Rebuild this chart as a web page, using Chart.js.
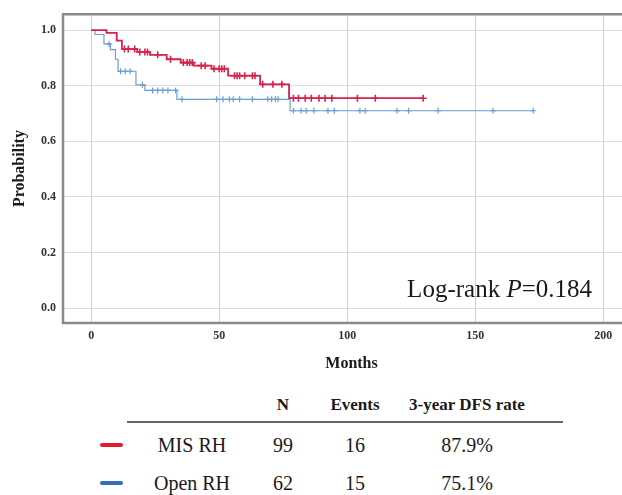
<!DOCTYPE html>
<html>
<head>
<meta charset="utf-8">
<script src="https://cdn.jsdelivr.net/npm/chart.js@4.4.0/dist/chart.umd.min.js"></script>
<style>
  html, body { margin: 0; padding: 0; background: #fff; }
  body { width: 622px; height: 495px; position: relative; overflow: hidden; font-family: "Liberation Serif", serif; color: #1a1a1a; }
  #wrap { position: absolute; left: 0; top: 0; width: 622px; height: 380px; overflow: hidden; }
  .cell { position: absolute; transform: translate(-50%, -50%); white-space: nowrap; }
  .hd { font-weight: bold; font-size: 17px; }
  .rw { font-size: 20px; }
  .rule { position: absolute; left: 127px; top: 421px; width: 436px; height: 2px; background: #666; }
  .dash { position: absolute; left: 100px; width: 23px; height: 4px; border-radius: 2px; }
</style>
</head>
<body>
<div id="wrap"><canvas id="km" width="640" height="380"></canvas></div>

<div id="table"></div>

<script>
const xTicks = [0, 50, 100, 150, 200];
const yTicks = [0, 0.2, 0.4, 0.6, 0.8, 1.0];

// MIS RH - times where the curve steps, and level after each step
const misTimes = [0, 6, 10, 12, 18, 23, 29.5, 35, 40, 47, 53.5, 66, 77.3, 129.7];
const misSurv  = [1.0, 0.99, 0.962, 0.932, 0.921, 0.911, 0.895, 0.883, 0.872, 0.861, 0.836, 0.805, 0.755, 0.755];
const misCensored = [13, 14.5, 17, 19, 21, 22, 26, 31, 36, 37.5, 38.5, 39.5, 43, 44.5, 48, 50, 51, 52,
                     56, 57, 58, 60, 63, 64, 67, 71, 74.5, 79, 81, 83.6, 86, 89, 91.4, 94, 104, 111, 129.7];

// Open RH
const openTimes = [0, 1.5, 5, 7.5, 9.5, 10.5, 17.5, 21, 33.5, 77.7, 172.7];
const openSurv  = [1.0, 0.984, 0.95, 0.93, 0.895, 0.852, 0.803, 0.783, 0.751, 0.71, 0.71];
const openCensored = [7, 11.5, 13.3, 15.2, 20, 24, 26, 28, 30, 33, 35.5, 49, 51.5, 54, 55.5, 58, 63, 69, 70.5, 72, 73,
                      79, 82, 84, 87, 92.5, 95, 105, 107, 119.5, 124, 135.5, 157, 172.7];

// table under the plot
const groups = ['MIS RH', 'Open RH'];
const groupN = [99, 62];
const groupEvents = [16, 15];
const dfsRate = ['87.9%', '75.1%'];

const red = '#d6234f';
const blue = '#6a9ed8';

function levelAt(times, surv, t) {
    let s = surv[0];
    for (let i = 0; i < times.length; i++) {
        if (times[i] <= t) s = surv[i];
    }
    return s;
}

const misLine = misTimes.map((t, i) => ({ x: t, y: misSurv[i] }));
const openLine = openTimes.map((t, i) => ({ x: t, y: openSurv[i] }));
const misMarks = misCensored.map(t => ({ x: t, y: levelAt(misTimes, misSurv, t) }));
const openMarks = openCensored.map(t => ({ x: t, y: levelAt(openTimes, openSurv, t) }));

const frame = {
    id: 'frame',
    afterDraw(chart) {
        const { ctx, chartArea: a } = chart;
        ctx.save();
        ctx.strokeStyle = '#8a8a8a';
        ctx.lineWidth = 2.5;
        ctx.beginPath();
        ctx.moveTo(a.right + 2, a.top);
        ctx.lineTo(a.left, a.top);
        ctx.lineTo(a.left, a.bottom);
        ctx.lineTo(a.right + 2, a.bottom);
        ctx.stroke();

        // log-rank note
        const parts = [
            ['Log-rank ', 'normal 25px "Liberation Serif"'],
            ['P', 'italic 25px "Liberation Serif"'],
            ['=0.184', 'normal 25px "Liberation Serif"']
        ];
        let total = 0;
        parts.forEach(p => { ctx.font = p[1]; total += ctx.measureText(p[0]).width; });
        let x = 592 - total;
        ctx.fillStyle = '#1a1a1a';
        ctx.textBaseline = 'alphabetic';
        parts.forEach(p => {
            ctx.font = p[1];
            ctx.fillText(p[0], x, 297);
            x += ctx.measureText(p[0]).width;
        });
        ctx.restore();
    }
};

const tickFont = { family: 'Liberation Serif', size: 12, weight: 'bold' };
const titleFont = { family: 'Liberation Serif', size: 16, weight: 'bold' };

new Chart(document.getElementById('km'), {
    type: 'line',
    data: {
        datasets: [
            { label: 'MIS RH', data: misLine, stepped: 'before', borderColor: red, borderWidth: 1.8, pointRadius: 0 },
            { type: 'scatter', data: misMarks, pointStyle: 'cross', pointRadius: 3.5, borderColor: red, borderWidth: 1.6 },
            { label: 'Open RH', data: openLine, stepped: 'before', borderColor: blue, borderWidth: 1.2, pointRadius: 0 },
            { type: 'scatter', data: openMarks, pointStyle: 'cross', pointRadius: 3, borderColor: blue, borderWidth: 1.2 }
        ]
    },
    options: {
        responsive: false,
        animation: false,
        devicePixelRatio: 1,
        layout: { autoPadding: false, padding: { top: 11, right: 0, bottom: 5, left: 0 } },
        plugins: { legend: { display: false }, tooltip: { enabled: false } },
        scales: {
            x: {
                type: 'linear',
                min: -11,
                max: 214.4,
                afterBuildTicks: s => { s.ticks = xTicks.map(v => ({ value: v })); },
                afterFit: s => { s.height = 52; },
                ticks: { font: tickFont, color: '#333', padding: 6 },
                grid: { color: '#cfcfcf', drawTicks: false },
                border: { display: false },
                title: { display: true, text: 'Months', font: titleFont, color: '#1a1a1a', padding: { top: 0, bottom: 2 } }
            },
            y: {
                min: -0.053,
                max: 1.057,
                afterBuildTicks: s => { s.ticks = yTicks.map(v => ({ value: v })); },
                afterFit: s => { s.width = 63; },
                ticks: { font: tickFont, color: '#333', padding: 7, callback: v => v.toFixed(1) },
                grid: { color: '#dcdcdc', drawTicks: false },
                border: { display: false },
                title: { display: true, text: 'Probability', font: titleFont, color: '#1a1a1a', padding: { top: 10, bottom: 0 } }
            }
        }
    },
    plugins: [frame]
});

// table
const table = document.getElementById('table');
const colX = [192, 283, 355, 467];
const rowY = [445, 483];
function cell(text, x, y, cls) {
    const d = document.createElement('div');
    d.className = 'cell ' + cls;
    d.style.left = x + 'px';
    d.style.top = y + 'px';
    d.textContent = text;
    table.appendChild(d);
}
cell('N', colX[1], 405, 'hd');
cell('Events', colX[2], 405, 'hd');
cell('3-year DFS rate', colX[3], 405, 'hd');
const rule = document.createElement('div');
rule.className = 'rule';
table.appendChild(rule);
const dashColors = ['#e2202c', '#2f6fb8'];
groups.forEach((g, i) => {
    const dash = document.createElement('div');
    dash.className = 'dash';
    dash.style.top = (rowY[i] - 2) + 'px';
    dash.style.background = dashColors[i];
    table.appendChild(dash);
    cell(g, colX[0], rowY[i], 'rw');
    cell(String(groupN[i]), colX[1], rowY[i], 'rw');
    cell(String(groupEvents[i]), colX[2], rowY[i], 'rw');
    cell(dfsRate[i], colX[3], rowY[i], 'rw');
});
</script>
</body>
</html>
